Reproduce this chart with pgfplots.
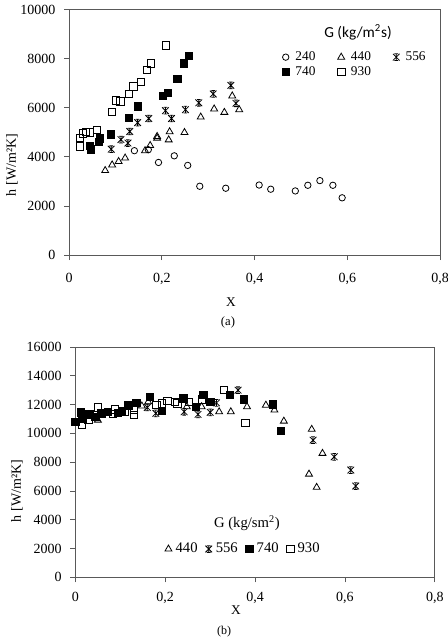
\documentclass[border=0pt]{standalone}
\usepackage{fontspec}
\setmainfont{Liberation Serif}
\newfontfamily\carlito{Carlito}
\usepackage{pgfplots}
\pgfplotsset{compat=1.18}

\pgfdeclareplotmark{xstar}{%
  \pgfpathmoveto{\pgfqpoint{-\pgfplotmarksize}{-\pgfplotmarksize}}%
  \pgfpathlineto{\pgfqpoint{\pgfplotmarksize}{\pgfplotmarksize}}%
  \pgfpathmoveto{\pgfqpoint{-\pgfplotmarksize}{\pgfplotmarksize}}%
  \pgfpathlineto{\pgfqpoint{\pgfplotmarksize}{-\pgfplotmarksize}}%
  \pgfpathmoveto{\pgfqpoint{0pt}{-\pgfplotmarksize}}%
  \pgfpathlineto{\pgfqpoint{0pt}{\pgfplotmarksize}}%
  \pgfpathmoveto{\pgfqpoint{-0.55\pgfplotmarksize}{\pgfplotmarksize}}%
  \pgfpathlineto{\pgfqpoint{0.55\pgfplotmarksize}{\pgfplotmarksize}}%
  \pgfpathmoveto{\pgfqpoint{-0.55\pgfplotmarksize}{-\pgfplotmarksize}}%
  \pgfpathlineto{\pgfqpoint{0.55\pgfplotmarksize}{-\pgfplotmarksize}}%
  \pgfusepathqstroke
}

\pgfplotsset{
  common/.style={
    scale only axis,
    axis line style={draw=black!65, line width=0.6pt},
    tick style={draw=black!65, line width=0.6pt},
    tick align=outside,
    major tick length=3.75pt,
    xtick pos=left, ytick pos=left,
    xmin=0, xmax=0.8,
    xtick={0,0.2,0.4,0.6,0.8},
    scaled ticks=false,
    /pgf/number format/assume math mode=true,
    tick label style={font=\fontsize{10.5}{12}\selectfont},
    xticklabel style={/pgf/number format/use comma, /pgf/number format/fixed, /pgf/number format/precision=1},
    yticklabel style={/pgf/number format/1000 sep={}, /pgf/number format/fixed},
    legend image code/.code={\draw[mark repeat=2,mark phase=2,#1] plot coordinates {(0pt,0pt)(3pt,0pt)(6pt,0pt)};},
  },
  mc/.style={only marks, mark=o, mark size=2.4pt, mark options={draw=black, fill=white, line width=0.6pt}},
  mt/.style={only marks, mark=triangle, mark size=3pt, mark options={draw=black, fill=white, line width=0.6pt}},
  mx/.style={only marks, mark=xstar, mark size=2.5pt, mark options={draw=black, line width=0.6pt}},
  mf/.style={only marks, mark=square*, mark size=2.8pt, mark options={draw=black, fill=black, line width=0.6pt}},
  ms/.style={only marks, mark=square, mark size=2.8pt, mark options={draw=black, fill=white, line width=0.6pt}},
}

\begin{document}
\begin{tikzpicture}
\useasboundingbox (0,0) rectangle (336pt,-481.5pt);

% ---------------- panel (a) ----------------
\begin{axis}[common,
  at={(51.75pt,-191.25pt)}, anchor=south west,
  width=278.25pt, height=184.125pt,
  ymin=0, ymax=10000, ytick={0,2000,4000,6000,8000,10000},
  yticklabel style={xshift=-3pt},
  xticklabel style={yshift=-6pt},
  legend columns=3,
  legend style={draw=none, fill=none, inner sep=0pt, outer sep=0pt,
    at={(axis cs:0.4593,7756)}, anchor=west,
    font=\fontsize{10}{11}\selectfont,
    nodes={inner sep=0pt},
    row sep=3pt,
    /tikz/every odd column/.append style={column sep=4.5pt},
    /tikz/every even column/.append style={column sep=16.5pt}},
]
\addplot[mc] coordinates {(0.141,4250)(0.171,4290)(0.193,3770)(0.227,4040)(0.256,3650)(0.282,2800)(0.338,2720)(0.410,2850)(0.435,2680)(0.488,2610)(0.515,2840)(0.541,3030)(0.569,2840)(0.589,2330)};
\addlegendentry{240}
\addplot[mt] coordinates {(0.078,3440)(0.093,3670)(0.107,3810)(0.121,3950)(0.164,4250)(0.175,4460)(0.190,4760)(0.190,4830)(0.215,4690)(0.217,5020)(0.249,4990)(0.284,5620)(0.313,5950)(0.335,5810)(0.352,6480)(0.367,5920)};
\addlegendentry{440}
\addplot[mx] coordinates {(0.091,4310)(0.112,4700)(0.127,4560)(0.131,5030)(0.148,5390)(0.172,5560)(0.208,5880)(0.221,5560)(0.251,5920)(0.280,6200)(0.311,6560)(0.349,6910)(0.360,6180)};
\addlegendentry{556}
\addplot[mf] coordinates {(0.045,4450)(0.047,4300)(0.065,4600)(0.067,4750)(0.090,4910)(0.129,5590)(0.149,6050)(0.203,6490)(0.213,6610)(0.234,7170)(0.248,7810)(0.258,8120)};
\addlegendentry{740}
\addplot[ms] coordinates {(0.024,4420)(0.024,4760)(0.030,4950)(0.037,5010)(0.045,4990)(0.060,5100)(0.092,5820)(0.101,6300)(0.111,6260)(0.129,6570)(0.139,6870)(0.155,7050)(0.168,7540)(0.177,7810)(0.209,8540)};
\addlegendentry{930}
\node[font=\carlito\fontsize{11.5}{13}\selectfont] at (axis cs:0.6232,9062) {G (kg/m\textsuperscript{2}s)};
\end{axis}

% ---------------- panel (b) ----------------
\begin{axis}[common,
  at={(56.55pt,-432.975pt)}, anchor=south west,
  width=269.55pt, height=172.725pt,
  ymin=0, ymax=16000, ytick={0,2000,4000,6000,8000,10000,12000,14000,16000},
  yticklabel style={xshift=-3pt},
  xticklabel style={yshift=-4pt},
  legend columns=4,
  legend style={draw=none, fill=none, inner sep=0pt, outer sep=0pt,
    at={(axis cs:0.1994,1965)}, anchor=west,
    font=\fontsize{11}{12}\selectfont,
    nodes={inner sep=0pt},
    /tikz/every odd column/.append style={column sep=2.8pt},
    /tikz/every even column/.append style={column sep=5.8pt}},
]
\addplot[mt] coordinates {(0.050,10920)(0.148,11900)(0.162,12190)(0.248,11850)(0.281,11850)(0.320,11500)(0.346,11500)(0.382,11850)(0.424,11960)(0.443,11620)(0.464,10850)(0.526,10280)(0.550,8610)(0.520,7170)(0.537,6250)};
\addlegendentry{440}
\addplot[mx] coordinates {(0.160,11800)(0.179,11390)(0.242,11500)(0.273,11320)(0.300,11460)(0.314,12120)(0.362,13000)(0.529,9530)(0.576,8370)(0.613,7450)(0.624,6340)};
\addlegendentry{556}
\addplot[mf] coordinates {(0.0,10790)(0.012,11460)(0.016,11040)(0.031,11320)(0.044,11150)(0.058,11390)(0.072,11500)(0.095,11430)(0.103,11570)(0.118,11940)(0.136,12120)(0.166,12540)(0.192,11570)(0.240,12430)(0.268,11850)(0.285,12680)(0.300,12190)(0.344,12680)(0.375,12360)(0.440,12010)(0.457,10160)};
\addlegendentry{740}
\addplot[ms] coordinates {(0.014,10620)(0.029,10920)(0.050,11800)(0.084,11340)(0.088,11670)(0.109,11500)(0.130,11670)(0.130,11270)(0.180,11960)(0.192,12080)(0.205,12260)(0.222,12190)(0.227,12080)(0.253,12190)(0.281,12360)(0.331,13010)(0.378,10740)};
\addlegendentry{930}
\node[font=\fontsize{11}{12}\selectfont] at (axis cs:0.3818,3771) {G (kg/sm\textsuperscript{2})};
\end{axis}

% ---------------- labels ----------------
\begin{scope}[x=0.75pt, y=-0.75pt]
\node[rotate=90, font=\fontsize{10.5}{12}\selectfont] at (12,165) {h [W/m²K]};
\node[rotate=90, font=\fontsize{10.5}{12}\selectfont] at (17,491) {h [W/m²K]};
\node[font=\fontsize{10}{12}\selectfont] at (231,302) {X};
\node[font=\fontsize{9.5}{11}\selectfont] at (228,322) {(a)};
\node[font=\fontsize{10}{12}\selectfont] at (236,610) {X};
\node[font=\fontsize{9}{10}\selectfont] at (224,632) {(b)};
\end{scope}
\end{tikzpicture}
\end{document}
